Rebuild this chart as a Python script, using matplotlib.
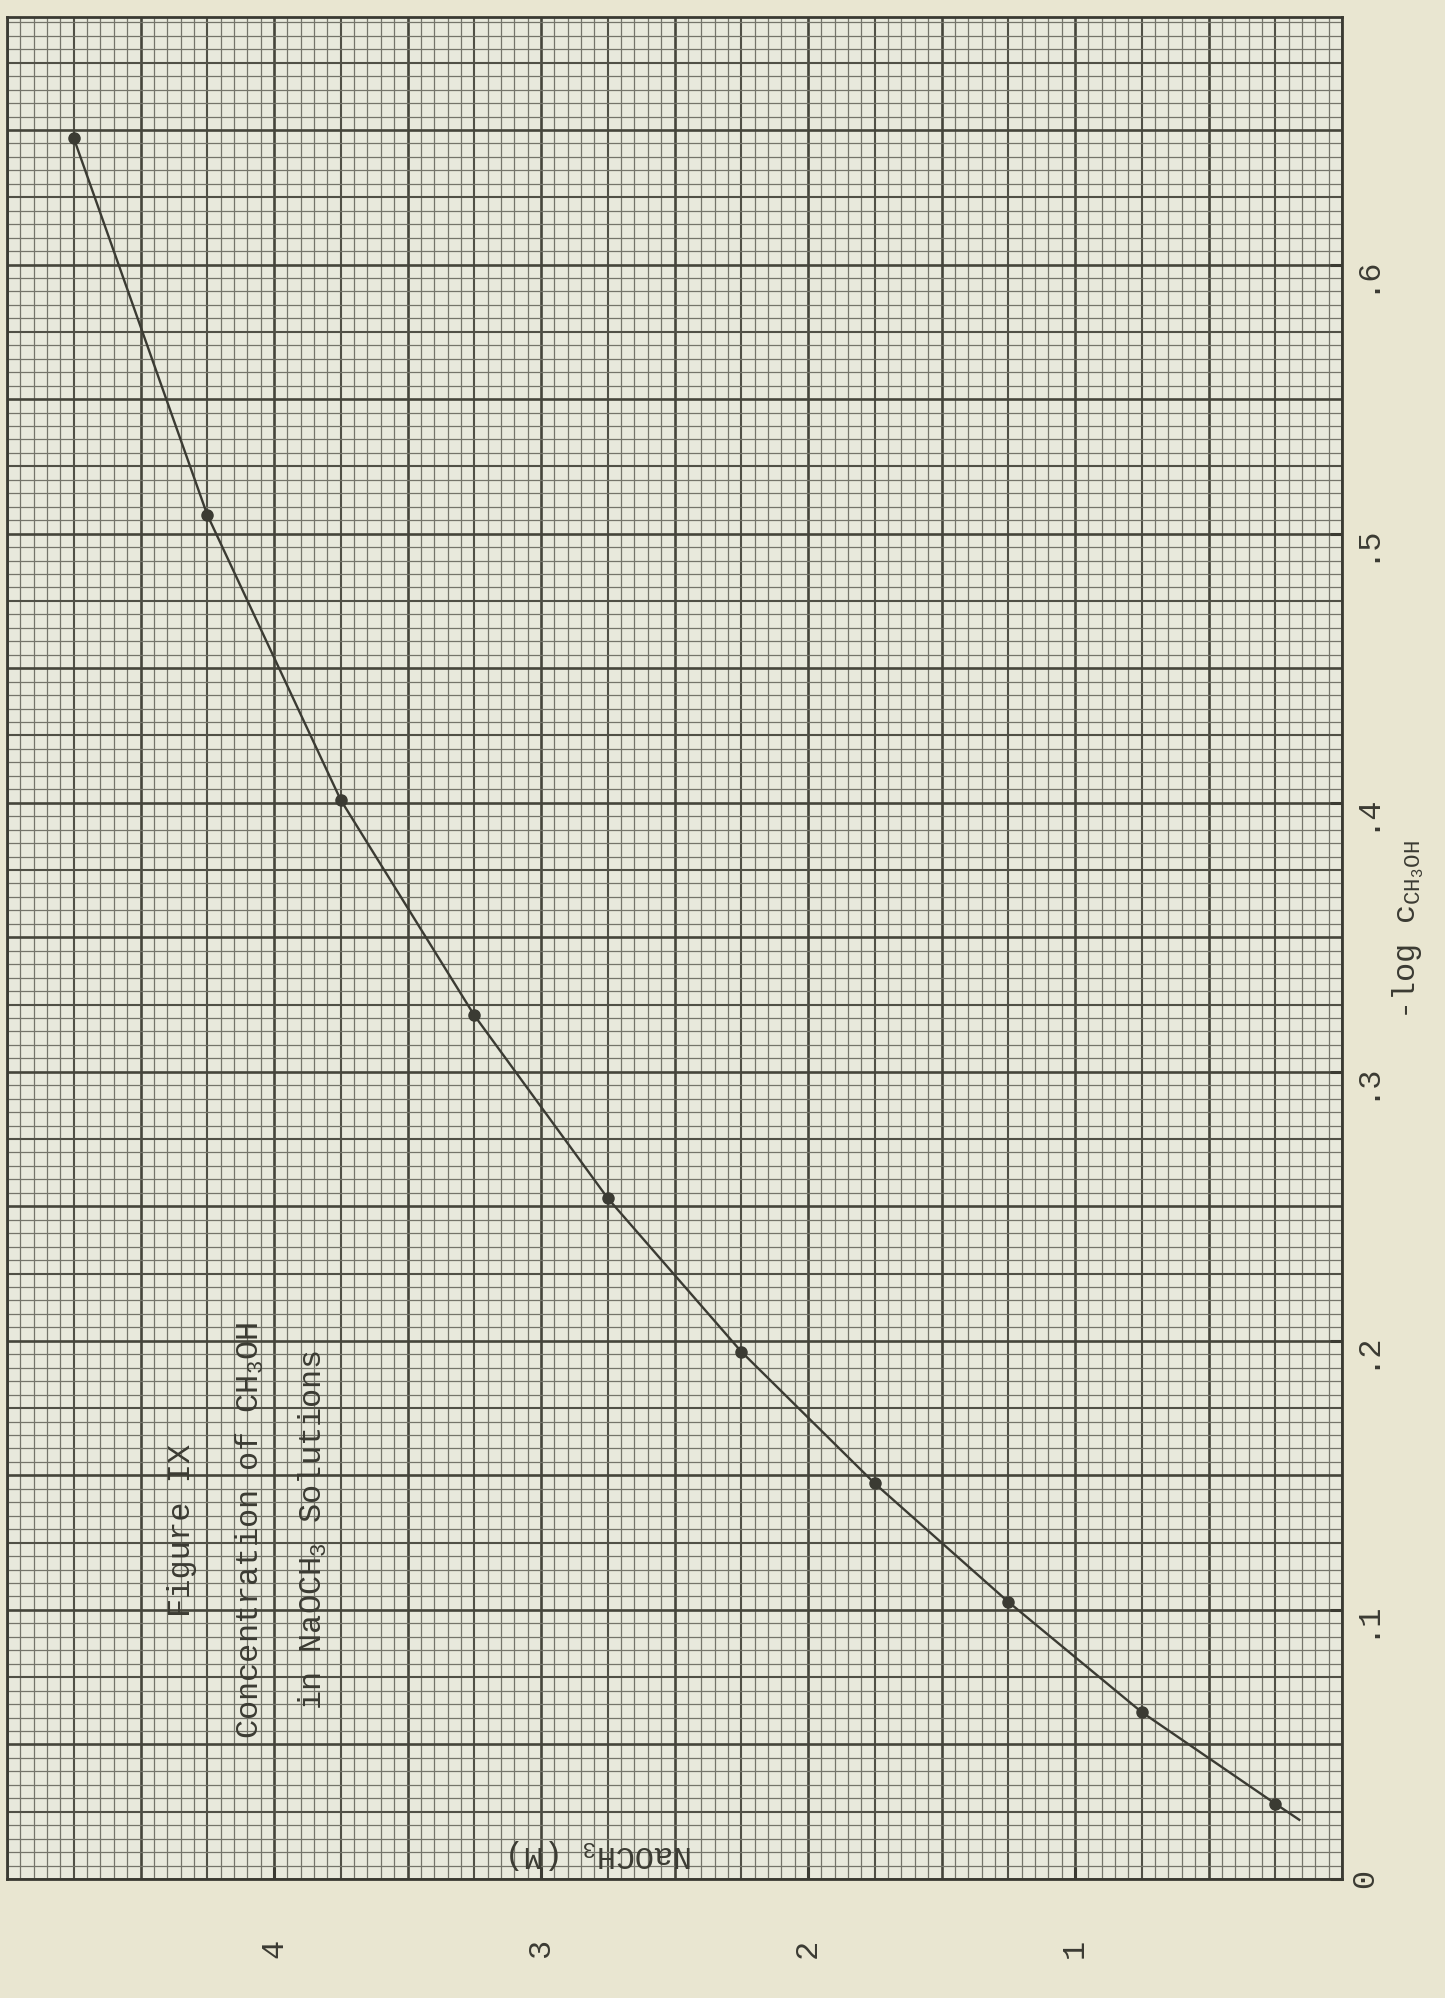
import numpy as np
import matplotlib
matplotlib.use('Agg')
import matplotlib.pyplot as plt

plt.rcParams['font.family'] = ['Liberation Mono', 'DejaVu Sans Mono']
plt.rcParams['mathtext.fontset'] = 'custom'
plt.rcParams['mathtext.rm'] = 'Liberation Mono'
plt.rcParams['mathtext.it'] = 'Liberation Mono'

# values
naoch3 = [4.75, 4.25, 3.75, 3.25, 2.75, 2.25, 1.75, 1.25, 0.75, 0.25]          # NaOCH3 (M)
neg_log_c = [0.647, 0.507, 0.401, 0.321, 0.253, 0.196, 0.147, 0.103, 0.062, 0.028]  # -log c CH3OH
# the hand-drawn curve runs a little past the last point
tail_naoch3 = 0.16
tail_log = 0.022

x_ticks = [1, 2, 3, 4]
x_ticklabels = ['1', '2', '3', '4']
y_ticks = [0, 0.1, 0.2, 0.3, 0.4, 0.5, 0.6]
y_ticklabels = ['0', '.1', '.2', '.3', '.4', '.5', '.6']

W, H = 1445, 1999
paper = '#e9e6d1'
ink = '#3b3b33'

fig = plt.figure(figsize=(W / 100, H / 100), dpi=100, facecolor=paper)
ax = fig.add_axes([7 / W, 119 / H, 1335 / W, 1862 / H])
ax.set_facecolor('#e8e9dc')
ax.set_xlim(5.0, 0)
ax.set_ylim(0, 0.692)

# graph paper
for i in range(0, 101):
    lw, c = (1.9, '#45453b') if i % 10 == 0 else (1.5, '#505046') if i % 5 == 0 else (0.9, '#74746a')
    ax.axvline(i * 0.05, color=c, lw=lw, zorder=1)
for j in range(0, 139):
    lw, c = (1.9, '#45453b') if j % 10 == 0 else (1.5, '#505046') if j % 5 == 0 else (0.9, '#74746a')
    ax.axhline(j * 0.005, color=c, lw=lw, zorder=1)

ax.plot(naoch3 + [tail_naoch3], neg_log_c + [tail_log], '-', color=ink, lw=1.7, zorder=3)
ax.plot(naoch3, neg_log_c, 'o', color=ink, ms=8, zorder=4)

for s in ax.spines.values():
    s.set_color('#3a3a32')
    s.set_linewidth(2)

ax.set_xticks(x_ticks)
ax.set_xticklabels(x_ticklabels)
ax.yaxis.tick_right()
ax.set_yticks(y_ticks)
ax.set_yticklabels(y_ticklabels)
ax.tick_params(axis='x', direction='in', length=9, width=2.2, color='#3a3a32',
               pad=42, labelsize=23, labelrotation=90, labelcolor=ink)
ax.tick_params(axis='y', direction='in', length=9, width=2.2, color='#3a3a32',
               pad=6, labelsize=23, labelrotation=90, labelcolor=ink)

ax.text(2.775, 0.0095, r'NaOCH$_\mathregular{3}$ (M)', rotation=180,
        ha='center', va='center', fontsize=23, color=ink, zorder=5)

def px(x, y):
    return x / W, 1 - y / H

fig.text(*px(182, 1530), 'Figure IX', rotation=90, ha='center', va='center',
         fontsize=23, color=ink)
fig.text(*px(250, 1530), r'Concentration of CH$_\mathregular{3}$OH', rotation=90,
         ha='center', va='center', fontsize=23, color=ink)
fig.text(*px(313, 1530), r'in NaOCH$_\mathregular{3}$ Solutions', rotation=90,
         ha='center', va='center', fontsize=23, color=ink)
fig.text(*px(1408, 930), r'-log c$_\mathregular{CH_3OH}$', rotation=90,
         ha='center', va='center', fontsize=23, color=ink)

plt.savefig('out.png', dpi=100, facecolor=paper)
